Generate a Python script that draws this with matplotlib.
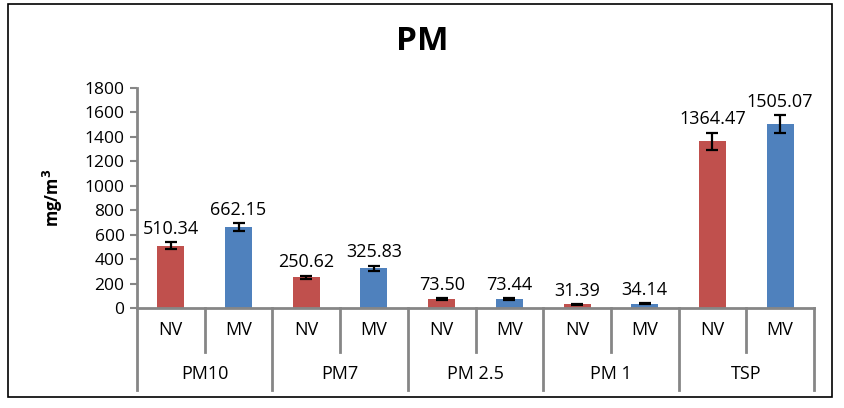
import matplotlib
matplotlib.use("Agg")
import matplotlib.pyplot as plt
from matplotlib.patches import Rectangle
from matplotlib.transforms import blended_transform_factory
import numpy as np

groups = ['PM10', 'PM7', 'PM 2.5', 'PM 1', 'TSP']
subs = ['NV', 'MV']
nv_vals = [510.34, 250.62, 73.50, 31.39, 1364.47]
mv_vals = [662.15, 325.83, 73.44, 34.14, 1505.07]
nv_err = [28, 15, 5, 3, 70]
mv_err = [33, 20, 5, 3, 75]
yticks = [0, 200, 400, 600, 800, 1000, 1200, 1400, 1600, 1800]

red = '#C0504D'
blue = '#4F81BD'
grey = '#868686'

plt.rcParams['font.family'] = ['Open Sans', 'DejaVu Sans']

fig = plt.figure(figsize=(8.44, 4.08), dpi=100)
fig.patches.append(Rectangle((8 / 844, 11 / 408), 824 / 844, 393 / 408,
                             transform=fig.transFigure, fill=False,
                             edgecolor='black', linewidth=1.2))
ax = fig.add_axes([137 / 844, 1 - 308 / 408, 677 / 844, 220 / 408])

n = len(groups)
x_nv = np.arange(n) * 2 + 0.5
x_mv = np.arange(n) * 2 + 1.5
w = 0.4
ax.bar(x_nv, nv_vals, w, color=red, zorder=2)
ax.bar(x_mv, mv_vals, w, color=blue, zorder=2)
ax.errorbar(x_nv, nv_vals, yerr=nv_err, fmt='none', ecolor='black',
            elinewidth=1.6, capsize=4, capthick=1.6, zorder=3)
ax.errorbar(x_mv, mv_vals, yerr=mv_err, fmt='none', ecolor='black',
            elinewidth=1.6, capsize=4, capthick=1.6, zorder=3)

for xs, vals, errs in [(x_nv, nv_vals, nv_err), (x_mv, mv_vals, mv_err)]:
    for x, v, e in zip(xs, vals, errs):
        ax.text(x, v + e + 35, f'{v:.2f}', ha='center', va='bottom', fontsize=13)

ax.set_xlim(0, 2 * n)
ax.set_ylim(0, 1800)
ax.set_yticks(yticks)
ax.tick_params(axis='y', labelsize=12.5, length=5, width=1.5, color=grey, pad=4)
ax.set_xticks([])
for s in ['top', 'right']:
    ax.spines[s].set_visible(False)
for s in ['left', 'bottom']:
    ax.spines[s].set_color(grey)
    ax.spines[s].set_linewidth(2)

ax.set_ylabel('mg/m$\\mathbf{^3}$', fontsize=12, fontweight='bold', labelpad=14)
fig.text(0.5, 1 - 42 / 408, 'PM', ha='center', va='center',
         fontsize=24, fontweight='bold')

trans = blended_transform_factory(ax.transData, ax.transAxes)
for i in range(2 * n + 1):
    bottom = -0.373 if i % 2 == 0 else -0.2
    ax.plot([i, i], [0, bottom], transform=trans, color=grey, lw=2,
            clip_on=False)
for i, g in enumerate(groups):
    ax.text(2 * i + 0.5, -0.1, subs[0], transform=trans, ha='center',
            va='center', fontsize=13)
    ax.text(2 * i + 1.5, -0.1, subs[1], transform=trans, ha='center',
            va='center', fontsize=13)
    ax.text(2 * i + 1, -0.3, g, transform=trans, ha='center', va='center',
            fontsize=13)

fig.savefig('out.png', dpi=100)
